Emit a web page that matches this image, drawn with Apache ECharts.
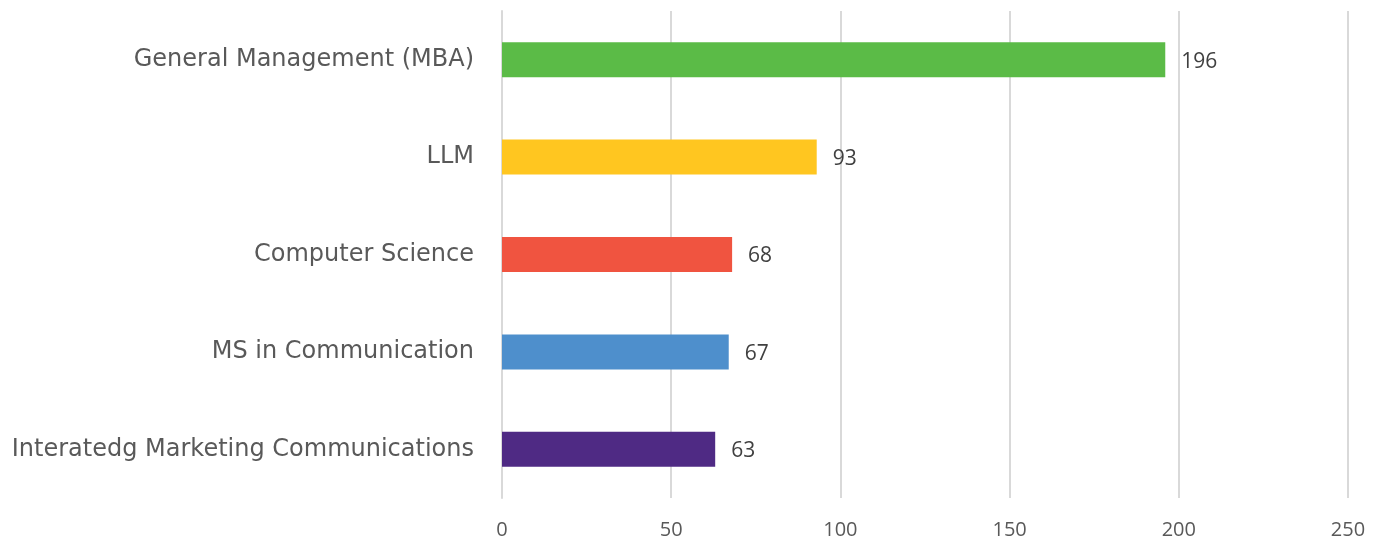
<!DOCTYPE html>
<html><head><meta charset="utf-8">
<script src="https://cdn.jsdelivr.net/npm/echarts@6/dist/echarts.min.js"></script>
<style>html,body{margin:0;padding:0;background:#fff}#c{width:1376px;height:540px}</style>
</head><body><div id="c"></div>
<script>
const categories = ["Interatedg Marketing Communications", "MS in Communication", "Computer Science", "LLM", "General Management (MBA)"];
const values = [63, 67, 68, 93, 196];
const colors = ["#4F2A84", "#4E8FCC", "#F05440", "#FFC620", "#5BBB47"];
const xTicks = [0, 50, 100, 150, 200, 250];

const chart = echarts.init(document.getElementById('c'));
chart.setOption({
  animation: false,
  grid: { left: 502, right: 28, top: 11, bottom: 40 },
  xAxis: {
    type: 'value', min: xTicks[0], max: xTicks[xTicks.length - 1], interval: xTicks[1] - xTicks[0],
    axisLine: { show: false }, axisTick: { show: false },
    splitLine: { lineStyle: { color: '#d9d9d9', width: 2 } },
    axisLabel: { color: '#595959', fontSize: 20, fontFamily: 'Open Sans', margin: 22 }
  },
  yAxis: {
    type: 'category', data: categories,
    axisLine: { show: true, lineStyle: { color: '#d9d9d9', width: 2 } },
    axisTick: { show: false },
    axisLabel: { color: '#595959', fontSize: 24, fontFamily: 'DejaVu Sans', margin: 28 }
  },
  series: [{
    type: 'bar', barWidth: 35,
    data: values.map((v, i) => ({ value: v, itemStyle: { color: colors[i] } })),
    label: { show: true, position: 'right', distance: 16, offset: [0, 2], color: '#404040', fontSize: 21, fontFamily: 'Open Sans' }
  }]
});
</script></body></html>
